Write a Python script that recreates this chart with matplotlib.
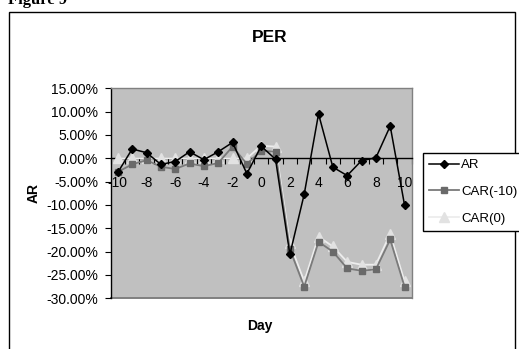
import matplotlib
matplotlib.use("Agg")
import matplotlib.pyplot as plt
from matplotlib.patches import Rectangle
from matplotlib.ticker import FuncFormatter, MultipleLocator, FixedLocator

plt.rcParams['font.family'] = ['Liberation Sans', 'DejaVu Sans']

# Event window (days) and abnormal return series, in percent
days = list(range(-10, 11))
ar = [-3.0, 2.0, 1.2, -1.3, -0.7, 1.4, -0.3, 1.4, 3.4, -3.3,
      2.6, -0.2, -20.6, -7.7, 9.5, -1.9, -3.7, -0.5, 0.1, 6.9, -10.0]
car_m10 = [-2.9, -1.3, -0.4, -1.8, -2.3, -1.1, -1.7, -1.0, 2.5, -1.2,
           1.6, 1.4, -19.5, -27.5, -17.9, -20.0, -23.6, -24.1, -23.8, -17.4, -27.5]
car_0 = [0.0, 0.0, 0.0, 0.0, 0.0, 0.0, 0.0, 0.0, 0.0, 0.0,
         2.7, 2.5, -18.2, -26.4, -16.8, -18.9, -22.2, -22.8, -22.8, -16.2, -26.4]

W, H = 519, 349
fig = plt.figure(figsize=(W / 100, H / 100), dpi=100)

# outer chart frame and caption cut at the top edge
fig.patches.append(Rectangle((9 / W, -0.05), (515 - 9) / W, 1.05 - 12 / H,
                             transform=fig.transFigure, fill=False,
                             edgecolor='black', linewidth=1.0))
fig.text(8 / W, 1 - 4 / H, "Figure 9", family='Liberation Serif',
         fontweight='bold', fontsize=12, va='baseline', ha='left')

left, right, top, bottom = 110.7, 411.7, 88.3, 298.3
ax = fig.add_axes([left / W, 1 - bottom / H, (right - left) / W, (bottom - top) / H])
ax.set_facecolor('#C0C0C0')

ax.plot(days, car_0, color='#EDEDED', lw=1.3, marker='^', ms=6.5,
        mfc='#E2E2E2', mec='#E2E2E2', label='CAR(0)', zorder=3)
ax.plot(days, car_m10, color='#7A7A7A', lw=1.3, marker='s', ms=5,
        mfc='#6A6A6A', mec='#6A6A6A', label='CAR(-10)', zorder=4)
ax.plot(days, ar, color='black', lw=1.1, marker='D', ms=4.5,
        mfc='black', mec='black', label='AR', zorder=5)

ax.set_xlim(-10.5, 10.5)
ax.set_ylim(-30, 15)

ax.yaxis.set_major_locator(MultipleLocator(5))
ax.yaxis.set_major_formatter(FuncFormatter(lambda v, p: f"{v:.2f}%"))
ax.tick_params(axis='y', direction='out', length=4, width=0.8, pad=5,
               labelsize=10, color='black')

# category axis crossing at zero
ax.spines['bottom'].set_position(('data', 0))
ax.spines['bottom'].set_color('black')
ax.spines['bottom'].set_linewidth(1.0)
ax.spines['left'].set_color('black')
ax.spines['left'].set_linewidth(1.0)
for s in ('top', 'right'):
    ax.spines[s].set_color('#808080')
    ax.spines[s].set_linewidth(1.0)
ax.axhline(-30, color='#808080', lw=1.4, clip_on=False, zorder=1)

ax.xaxis.set_major_locator(FixedLocator(days[::2]))
ax.xaxis.set_major_formatter(FuncFormatter(lambda v, p: f"{int(v)}"))
ax.xaxis.set_minor_locator(FixedLocator([d + 0.5 for d in range(-11, 11)]))
ax.tick_params(axis='x', which='major', length=0, pad=13, labelsize=10)
ax.tick_params(axis='x', which='minor', direction='out', length=4, width=0.8)

fig.text(260 / W, 1 - 326 / H, "Day", fontweight='bold', fontsize=10,
         ha='center', va='center')
fig.text(34 / W, 1 - 193 / H, "AR", fontweight='bold', fontsize=10,
         ha='center', va='center', rotation=90)
fig.text(270 / W, 1 - 38 / H, "PER", fontweight='bold', fontsize=12.5,
         ha='center', va='center')

handles, labels = ax.get_legend_handles_labels()
order = [2, 1, 0]
leg = fig.legend([handles[i] for i in order], [labels[i] for i in order],
                 loc='upper left', bbox_to_anchor=(423 / W, 1 - 153 / H),
                 bbox_transform=fig.transFigure, borderaxespad=0,
                 fontsize=9.5, handlelength=2.3, handletextpad=0.15,
                 labelspacing=1.1, borderpad=0.45, fancybox=False,
                 frameon=True, edgecolor='black', framealpha=1)
leg.get_frame().set_linewidth(1.0)

fig.savefig("out.png", dpi=100)
